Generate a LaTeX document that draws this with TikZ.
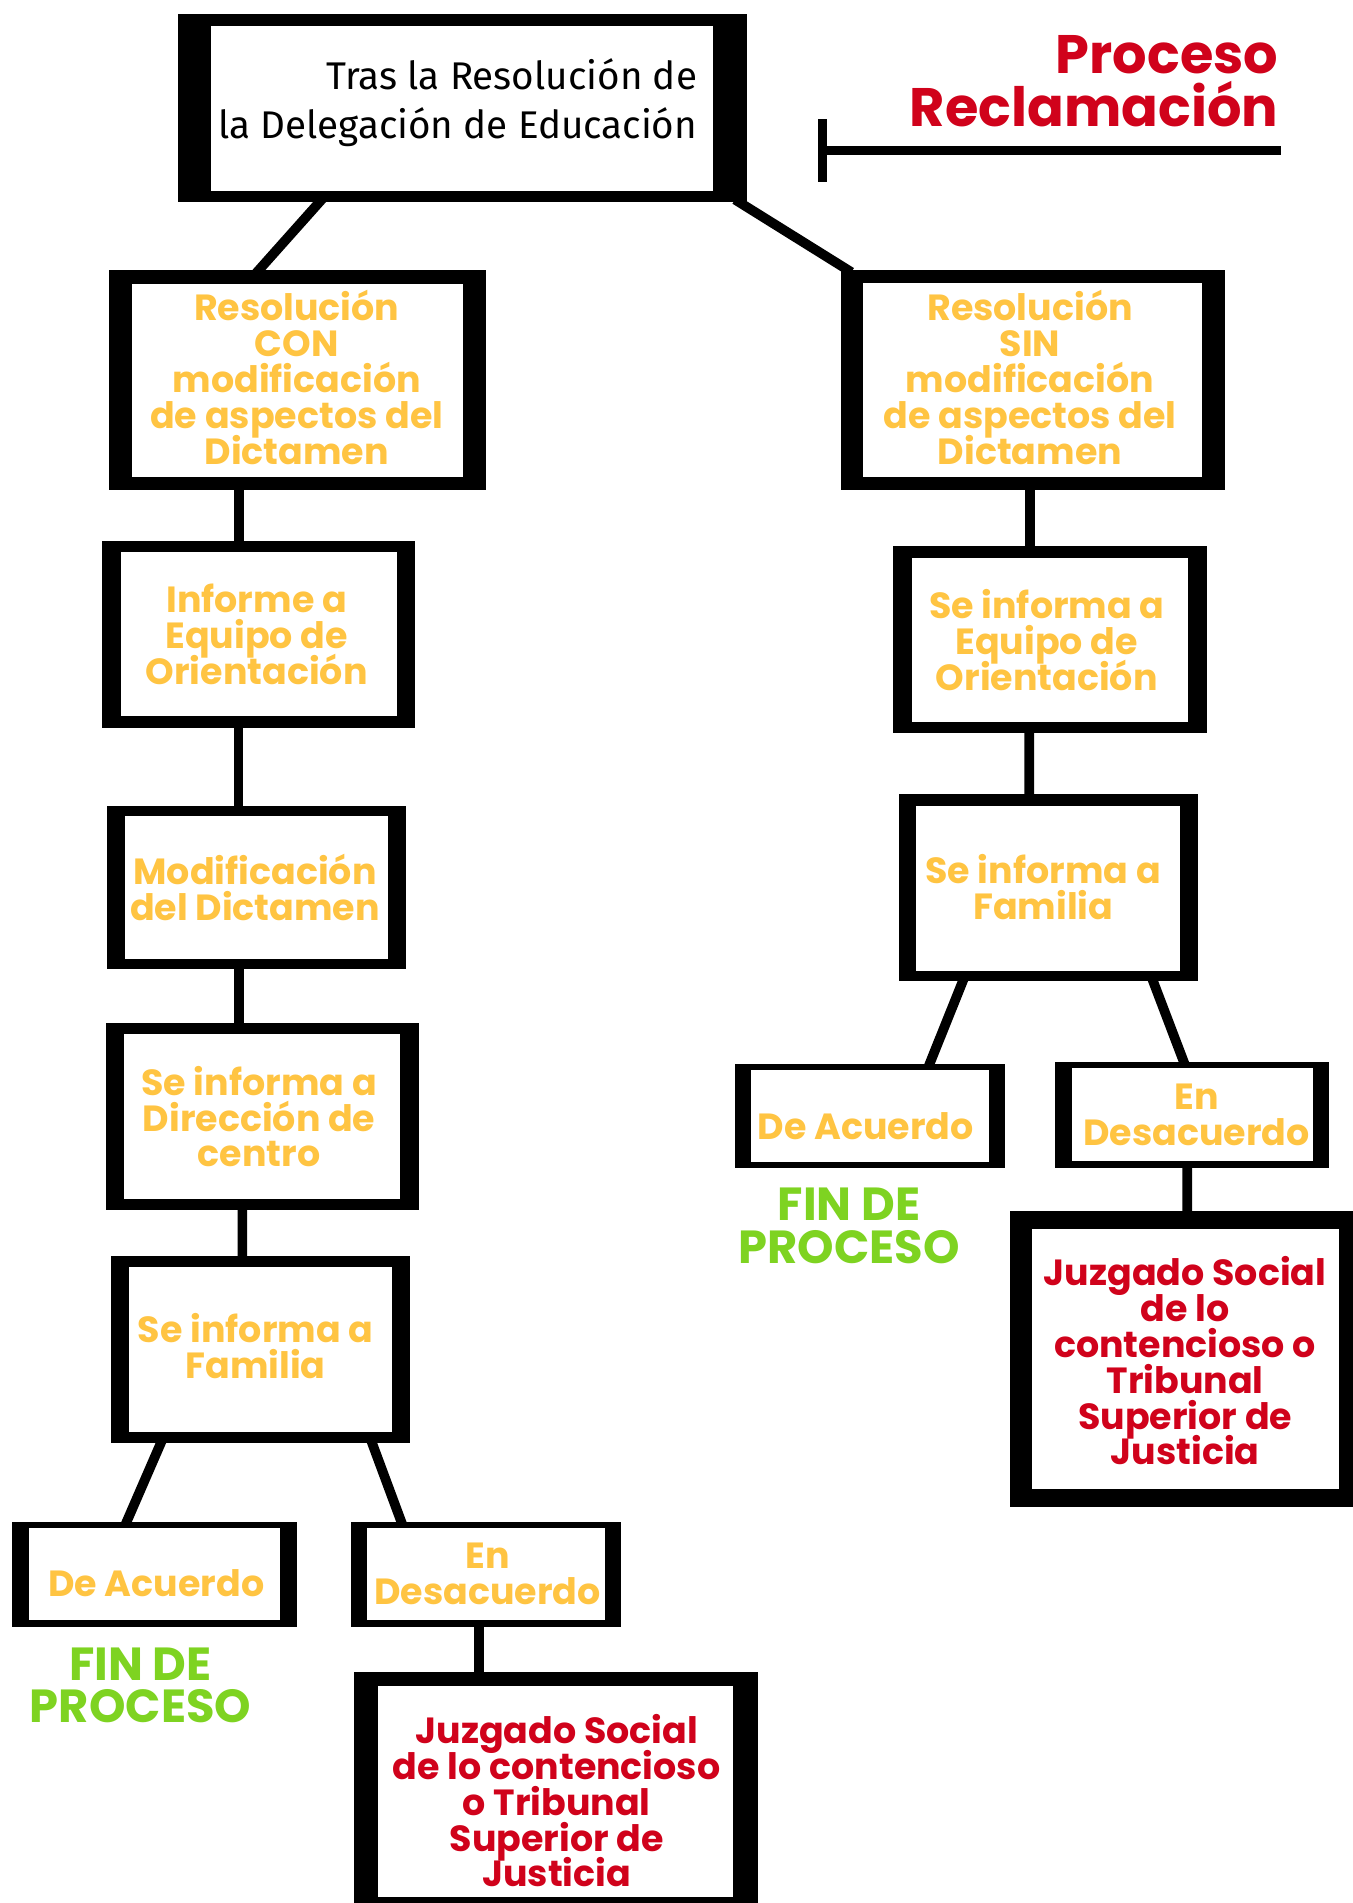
\documentclass[tikz,border=0pt]{standalone}
\usepackage{fontspec}
\setmainfont{Poppins}
\newfontfamily\firaf{Fira Sans}
\usetikzlibrary{calc}
\definecolor{yel}{RGB}{255,196,66}
\definecolor{rojo}{RGB}{208,2,27}
\definecolor{verde}{RGB}{126,211,33}
\pgfdeclarelayer{back}
\pgfdeclarelayer{bg}
\pgfsetlayers{back,bg,main}
\setlength\lineskiplimit{-100pt}
\tikzset{
  outerbox/.style={fill=black, draw=none, inner sep=0pt, outer sep=0pt},
  conn/.style={line width=4.85pt, black, shorten <=-2pt, shorten >=-2pt},
  tbar/.style={line width=4.5pt, black},
  ytext/.style={text=yel, font={\bfseries\fontsize{18.2}{17.9}\selectfont\lineskiplimit=-100pt}, align=center, inner sep=0pt},
  rtext/.style={ytext, text=rojo},
  gtext/.style={text=verde, font={\bfseries\fontsize{23.2}{21.2}\selectfont\lineskiplimit=-100pt}, align=center, inner sep=0pt},
  titletext/.style={text=rojo, font={\bfseries\fontsize{27.1}{26.3}\selectfont\lineskiplimit=-100pt}, align=right, inner sep=0pt, anchor=east},
  toptext/.style={text=black, font={\firaf\fontsize{19.3}{24.5}\selectfont\lineskiplimit=-100pt}, align=right, inner sep=0pt, anchor=east},
}
% name, x1, y1, x2, y2, left, right, top, bottom border
\newcommand\caja[9]{%
  \node[outerbox, minimum width={(#4-#2)*0.6068pt}, minimum height={(#5-#3)*0.6068pt}] (#1) at ({(#2+#4)/2},{(#3+#5)/2}) {};
  \fill[white] ({#2+#6},{#3+#8}) rectangle ({#4-#7},{#5-#9});
}
\begin{document}
\begin{tikzpicture}[x=0.6068pt,y=-0.6068pt]
\begin{pgfonlayer}{back}
\fill[white] (0,0) rectangle (1114,1568);
\end{pgfonlayer}
\useasboundingbox (0,0) rectangle (1114,1568);

% boxes
\caja{top}{146.4}{11.5}{615.6}{166.2}{27.7}{28.4}{9.9}{9.1}
\caja{con}{89.8}{222.5}{400.5}{403.8}{18.7}{18.7}{11.5}{11}
\caja{sin}{692.7}{222.5}{1009.4}{403.8}{18.7}{18.7}{10.9}{11}
\caja{infL}{83.8}{445.5}{342}{599.6}{15.6}{15.1}{9.5}{9.6}
\caja{eqR}{736.1}{449.9}{994.3}{603.7}{15.1}{15.6}{9.6}{9}
\caja{modL}{88.4}{663.9}{334.5}{798.2}{14.6}{14.5}{8.1}{7.7}
\caja{famR}{740.4}{654.3}{986.8}{808.2}{14.6}{14.6}{9.7}{8.5}
\caja{dirL}{87.1}{843.2}{345.3}{997}{15.3}{15.7}{9.1}{9}
\caja{famL}{91.5}{1034.7}{337.8}{1188.8}{14.8}{15.1}{9}{9.1}
\caja{deacR}{605.2}{876.4}{828.1}{962.4}{13.3}{13.6}{5.4}{5.3}
\caja{endesR}{869.6}{875.2}{1095}{962.4}{13.3}{13.2}{4.8}{5.4}
\caja{juzR}{832.4}{997.4}{1116}{1241.5}{17.6}{13}{15.5}{14.8}
\caja{deacL}{9.6}{1254}{244.5}{1340.3}{14.4}{14}{5.4}{5.4}
\caja{endesL}{288.8}{1254}{511.3}{1340.3}{13.6}{12.8}{5.4}{5.4}
\caja{juzL}{291.7}{1377.4}{624.3}{1575}{20}{20}{11.9}{12.2}

% texts
\node[toptext] (ttop) at (574.7,84.75) {Tras la Resolución de\\la Delegación de Educación};
\node[titletext] (title) at (1053.5,66.7) {Proceso\\Reclamación};
\node[ytext] (tcon) at (244.5,311) {Resolución\\CON\\modificación\\de aspectos del\\Dictamen};
\node[ytext] (tsin) at (848.7,311) {Resolución\\SIN\\modificación\\de aspectos del\\Dictamen};
\node[ytext] (tinf) at (211.5,522.9) {Informe a\\Equipo de\\Orientación};
\node[ytext] (teq) at (862.5,527.4) {Se informa a\\Equipo de\\Orientación};
\node[ytext] (tmod) at (210.1,731) {Modificación\\del Dictamen};
\node[ytext] (tfamR) at (859.5,730.9) {Se informa a\\Familia};
\node[ytext] (tdir) at (213.5,920) {Se informa a\\Dirección de\\centro};
\node[ytext] (tfamL) at (210.6,1108.8) {Se informa a\\Familia};
\node[ytext] (tdeacR) at (713.4,927.6) {De Acuerdo};
\node[ytext] (tendesR) at (986,918.9) {En\\Desacuerdo};
\node[rtext] (tjuzR) at (976.5,1121.4) {Juzgado Social\\de lo\\contencioso o\\Tribunal\\Superior de\\Justicia};
\node[ytext] (tdeacL) at (128.8,1304.6) {De Acuerdo};
\node[ytext] (tendesL) at (401.8,1296.7) {En\\Desacuerdo};
\node[rtext] (tjuzL) at (458.7,1483.9) {Juzgado Social\\de lo contencioso\\o Tribunal\\Superior de\\Justicia};
\node[gtext] (finL) at (115.8,1388.5) {FIN DE\\PROCESO};
\node[gtext] (finR) at (699.5,1010) {FIN DE\\PROCESO};

% T bar
\coordinate (tbtop) at (677.6,98.3);
\coordinate (tbbot) at (677.6,149.7);
\coordinate (tbmid) at (677.6,124);
\coordinate (tbend) at (1055.2,124);
\draw[tbar] (tbtop) -- (tbbot);
\draw[tbar] (tbmid) -- (tbend);

% connectors
\begin{pgfonlayer}{bg}
\draw[conn] ($(top.south west)+(117.1,0)$) -- ($(con.north west)+(123.5,0)$);
\draw[conn] ($(top.south east)+(-7.2,0)$) -- ($(sin.north west)+(6,0)$);
\draw[conn] ($(con.south west)+(107.2,0)$) -- ($(infL.north west)+(113.2,0)$);
\draw[conn] ($(infL.south west)+(112.6,0)$) -- ($(modL.north west)+(108,0)$);
\draw[conn] ($(modL.south west)+(108.6,0)$) -- ($(dirL.north west)+(109.9,0)$);
\draw[conn] ($(dirL.south west)+(112.6,0)$) -- ($(famL.north west)+(108.2,0)$);
\draw[conn] ($(famL.south west)+(41.1,0)$) -- ($(deacL.north west)+(94.7,0)$);
\draw[conn] ($(famL.south west)+(215,0)$) -- ($(endesL.north west)+(41.9,0)$);
\draw[conn] ($(endesL.south west)+(105.8,0)$) -- ($(juzL.north west)+(102.9,0)$);
\draw[conn] ($(sin.south west)+(156,0)$) -- ($(eqR.north west)+(112.6,0)$);
\draw[conn] ($(eqR.south west)+(111.9,0)$) -- ($(famR.north west)+(107.6,0)$);
\draw[conn] ($(famR.south west)+(53,0)$) -- ($(deacR.north west)+(160.8,0)$);
\draw[conn] ($(famR.south west)+(209.6,0)$) -- ($(endesR.north west)+(105.9,0)$);
\draw[conn] ($(endesR.south west)+(108.6,0)$) -- ($(juzR.north west)+(145.8,0)$);
\end{pgfonlayer}
\end{tikzpicture}
\end{document}
